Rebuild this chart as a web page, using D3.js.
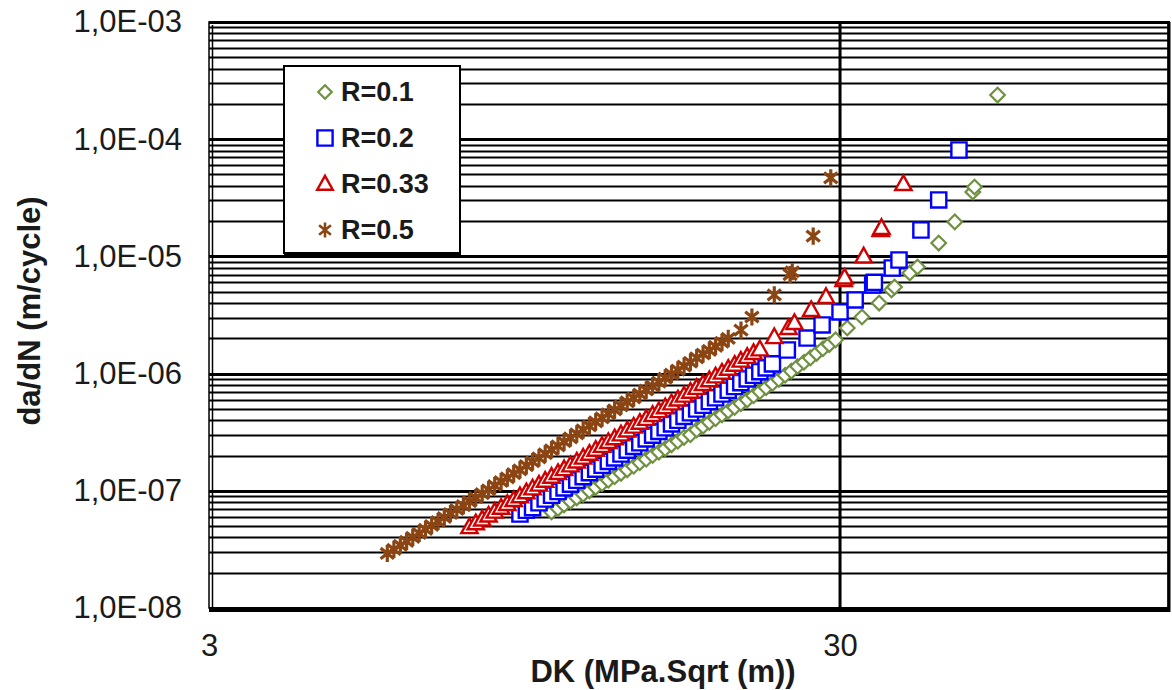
<!DOCTYPE html>
<html>
<head>
<meta charset="utf-8">
<script src="https://cdn.jsdelivr.net/npm/d3@7"></script>
<style>
  body { margin: 0; background: #fff; }
  svg { display: block; font-family: "Liberation Sans", Arial, sans-serif; }
</style>
</head>
<body>
<svg width="1172" height="690"></svg>
<script>
// Series data: DK (MPa.sqrt(m)) and da/dN (m/cycle)
var dkR01 = [10.47, 10.72, 10.96, 11.22, 11.48, 11.75, 12.02, 12.30, 12.59, 12.88, 13.18, 13.49, 13.80, 14.13, 14.45, 14.79, 15.14, 15.49, 15.85,
  16.22, 16.60, 16.98, 17.38, 17.78, 18.20, 18.62, 19.05, 19.50, 19.95, 20.42, 20.89, 21.38, 21.88, 22.39, 22.91, 23.44, 23.99, 24.55, 25.12,
  25.70, 26.30, 26.92, 27.54, 28.18, 28.84, 29.51,
  30.8, 32.5, 34.6, 36.2, 36.6, 38.7, 39.8, 43.0, 45.6, 48.7, 49.0, 53.3];
var dadnR01 = [6.61e-8, 7.08e-8, 7.59e-8, 8.13e-8, 8.71e-8, 9.33e-8, 1.00e-7, 1.07e-7, 1.15e-7, 1.23e-7, 1.32e-7, 1.41e-7, 1.51e-7, 1.62e-7, 1.74e-7, 1.86e-7, 2.00e-7, 2.14e-7, 2.29e-7,
  2.47e-7, 2.65e-7, 2.86e-7, 3.01e-7, 3.31e-7, 3.56e-7, 3.84e-7, 4.13e-7, 4.45e-7, 4.79e-7, 5.15e-7, 5.55e-7, 5.97e-7, 6.47e-7, 7.02e-7, 7.60e-7, 8.24e-7, 8.93e-7, 9.68e-7, 1.05e-6,
  1.15e-6, 1.25e-6, 1.36e-6, 1.49e-6, 1.63e-6, 1.77e-6, 1.94e-6,
  2.45e-6, 3.04e-6, 4.0e-6, 5.17e-6, 5.48e-6, 7.22e-6, 8.12e-6, 1.30e-5, 1.97e-5, 3.55e-5, 3.91e-5, 2.38e-4];

var dkR02 = [9.33, 9.55, 9.77, 10.00, 10.23, 10.47, 10.72, 10.96, 11.22, 11.48, 11.75, 12.02, 12.30, 12.59, 12.88, 13.18, 13.49, 13.80, 14.13, 14.45,
  14.79, 15.14, 15.49, 15.85, 16.22, 16.60, 16.98, 17.38, 17.78, 18.20, 18.62, 19.05, 19.50, 19.95, 20.42, 20.89, 21.38, 21.88, 22.39, 22.91, 23.44,
  24.75, 26.6, 28.1, 30.0, 31.7, 33.8, 34.0, 36.3, 37.2, 40.3, 43.0, 46.3];
var dadnR02 = [6.34e-8, 6.82e-8, 7.18e-8, 7.91e-8, 8.51e-8, 9.16e-8, 9.86e-8, 1.06e-7, 1.14e-7, 1.23e-7, 1.32e-7, 1.43e-7, 1.53e-7, 1.65e-7, 1.78e-7, 1.91e-7, 2.06e-7, 2.22e-7, 2.39e-7, 2.57e-7,
  2.77e-7, 2.98e-7, 3.21e-7, 3.45e-7, 3.72e-7, 4.00e-7, 4.31e-7, 4.63e-7, 4.99e-7, 5.37e-7, 5.78e-7, 6.22e-7, 6.70e-7, 7.21e-7, 7.76e-7, 8.36e-7, 9.00e-7, 9.68e-7, 1.04e-6, 1.12e-6, 1.21e-6,
  1.59e-6, 2.01e-6, 2.60e-6, 3.36e-6, 4.25e-6, 5.70e-6, 6.0e-6, 7.96e-6, 9.32e-6, 1.68e-5, 3.03e-5, 8.09e-5];

var dkR033 = [7.76, 7.94, 8.13, 8.32, 8.51, 8.71, 8.91, 9.12, 9.33, 9.55, 9.77, 10.00, 10.23, 10.47, 10.72, 10.96, 11.22, 11.48, 11.75, 12.02, 12.30, 12.59, 12.88, 13.18,
  13.49, 13.80, 14.13, 14.45, 14.79, 15.14, 15.49, 15.85, 16.22, 16.60, 16.98, 17.38, 17.78, 18.20, 18.62, 19.05, 19.50, 19.95, 20.42, 20.89, 21.38, 21.88, 22.39,
  23.6, 24.86, 25.4, 27.0, 28.5, 30.4, 30.5, 32.7, 34.8, 34.9, 37.8];
var dadnR033 = [4.90e-8, 5.29e-8, 5.70e-8, 6.15e-8, 6.64e-8, 7.16e-8, 7.73e-8, 8.34e-8, 9.00e-8, 9.71e-8, 1.05e-7, 1.13e-7, 1.22e-7, 1.32e-7, 1.42e-7, 1.53e-7, 1.65e-7, 1.78e-7, 1.92e-7, 2.07e-7, 2.24e-7, 2.42e-7, 2.61e-7, 2.81e-7,
  3.03e-7, 3.27e-7, 3.53e-7, 3.81e-7, 4.11e-7, 4.44e-7, 4.79e-7, 5.16e-7, 5.57e-7, 6.01e-7, 6.49e-7, 7.00e-7, 7.55e-7, 8.15e-7, 8.79e-7, 9.48e-7, 1.02e-6, 1.10e-6, 1.19e-6, 1.29e-6, 1.39e-6, 1.50e-6, 1.61e-6,
  2.05e-6, 2.45e-6, 2.70e-6, 3.49e-6, 4.51e-6, 6.29e-6, 6.6e-6, 1.0e-5, 1.68e-5, 1.75e-5, 4.15e-5];

var dkR05 = [5.75, 5.89, 6.03, 6.17, 6.31, 6.46, 6.61, 6.76, 6.92, 7.08, 7.24, 7.41, 7.59, 7.76, 7.94, 8.13, 8.32, 8.51, 8.71, 8.91, 9.12, 9.33, 9.55, 9.77,
  10.00, 10.23, 10.47, 10.72, 10.96, 11.22, 11.48, 11.75, 12.02, 12.30, 12.59, 12.88, 13.18, 13.49, 13.80, 14.13, 14.45, 14.79, 15.14, 15.49, 15.85,
  16.22, 16.60, 16.98, 17.38, 17.78, 18.20, 18.62, 19.05, 19.50, 19.95,
  20.9, 21.75, 23.6, 25.0, 25.2, 27.2, 29.0];
var dadnR05 = [2.92e-8, 3.16e-8, 3.42e-8, 3.70e-8, 4.00e-8, 4.33e-8, 4.68e-8, 5.06e-8, 5.47e-8, 5.92e-8, 6.40e-8, 6.92e-8, 7.48e-8, 8.09e-8, 8.75e-8, 9.46e-8, 1.02e-7, 1.11e-7, 1.20e-7, 1.29e-7, 1.40e-7, 1.51e-7, 1.64e-7, 1.77e-7,
  1.91e-7, 2.07e-7, 2.24e-7, 2.42e-7, 2.62e-7, 2.83e-7, 3.06e-7, 3.31e-7, 3.58e-7, 3.87e-7, 4.19e-7, 4.53e-7, 4.90e-7, 5.30e-7, 5.73e-7, 6.19e-7, 6.70e-7, 7.24e-7, 7.83e-7, 8.47e-7, 9.16e-7,
  9.91e-7, 1.07e-6, 1.16e-6, 1.25e-6, 1.36e-6, 1.47e-6, 1.58e-6, 1.71e-6, 1.85e-6, 2.00e-6,
  2.35e-6, 3.04e-6, 4.69e-6, 7.0e-6, 7.4e-6, 1.49e-5, 4.67e-5];

var seriesNames = ["R=0.1", "R=0.2", "R=0.33", "R=0.5"];
var seriesColors = ["#6f9140", "#0000ff", "#d00000", "#8b4513"];
var yTickValues = [1e-8, 1e-7, 1e-6, 1e-5, 1e-4, 1e-3];
var yTickLabels = ["1,0E-08", "1,0E-07", "1,0E-06", "1,0E-05", "1,0E-04", "1,0E-03"];
var xTickValues = [3, 30];
var xTickLabels = ["3", "30"];

// Layout
var PLOT_LEFT = 209;
var PLOT_TOP = 22;
var PLOT_RIGHT = 1170;
var PLOT_BOTTOM = 608;

var svg = d3.select("svg");

var x = d3.scaleLog().domain([3, 100]).range([PLOT_LEFT, PLOT_RIGHT]);
var y = d3.scaleLog().domain([1e-8, 1e-3]).range([PLOT_BOTTOM, PLOT_TOP]);

// plot background
svg.append("rect")
  .attr("x", PLOT_LEFT).attr("y", PLOT_TOP)
  .attr("width", PLOT_RIGHT - PLOT_LEFT).attr("height", PLOT_BOTTOM - PLOT_TOP)
  .attr("fill", "#fff");

// horizontal grid, minor and major
var grid = svg.append("g").attr("class", "grid");
grid.selectAll("line.h")
  .data(y.ticks())
  .enter().append("line")
  .attr("class", "h")
  .attr("x1", PLOT_LEFT).attr("x2", PLOT_RIGHT)
  .attr("y1", d => Math.round(y(d)) + 0.5)
  .attr("y2", d => Math.round(y(d)) + 0.5)
  .attr("stroke", "#000")
  .attr("stroke-width", d => yTickValues.indexOf(d) >= 0 ? 3 : 2);

// vertical major gridline
grid.selectAll("line.v")
  .data([30])
  .enter().append("line")
  .attr("class", "v")
  .attr("x1", d => x(d)).attr("x2", d => x(d))
  .attr("y1", PLOT_TOP).attr("y2", PLOT_BOTTOM)
  .attr("stroke", "#000")
  .attr("stroke-width", 3);

// plot frame (double line at left/top, heavy shadow at bottom/right)
svg.append("rect")
  .attr("x", PLOT_LEFT).attr("y", PLOT_TOP)
  .attr("width", PLOT_RIGHT - PLOT_LEFT - 2).attr("height", PLOT_BOTTOM - PLOT_TOP)
  .attr("fill", "none")
  .attr("stroke", "#000")
  .attr("stroke-width", 1.5);
svg.append("line")
  .attr("x1", PLOT_LEFT + 3.5).attr("x2", PLOT_LEFT + 3.5)
  .attr("y1", PLOT_TOP + 3).attr("y2", PLOT_BOTTOM)
  .attr("stroke", "#000").attr("stroke-width", 1.5);
svg.append("line")
  .attr("x1", PLOT_LEFT).attr("x2", PLOT_RIGHT)
  .attr("y1", PLOT_BOTTOM + 2).attr("y2", PLOT_BOTTOM + 2)
  .attr("stroke", "#000").attr("stroke-width", 4);
svg.append("line")
  .attr("x1", PLOT_RIGHT - 1).attr("x2", PLOT_RIGHT - 1)
  .attr("y1", PLOT_TOP).attr("y2", PLOT_BOTTOM + 4)
  .attr("stroke", "#000").attr("stroke-width", 3);

// axes (labels only)
var yAxis = d3.axisLeft(y)
  .tickValues(yTickValues)
  .tickFormat((d, i) => yTickLabels[i])
  .tickSize(0)
  .tickPadding(27);
svg.append("g")
  .attr("transform", "translate(" + PLOT_LEFT + ",0)")
  .call(yAxis)
  .call(g => g.select(".domain").remove())
  .selectAll("text")
  .attr("font-size", 31)
  .attr("font-family", "Liberation Sans, Arial, sans-serif")
  .attr("fill", "#1a1a1a");

var xAxis = d3.axisBottom(x)
  .tickValues(xTickValues)
  .tickFormat((d, i) => xTickLabels[i])
  .tickSize(0)
  .tickPadding(26);
svg.append("g")
  .attr("transform", "translate(0," + PLOT_BOTTOM + ")")
  .call(xAxis)
  .call(g => g.select(".domain").remove())
  .selectAll("text")
  .attr("font-size", 31)
  .attr("font-family", "Liberation Sans, Arial, sans-serif")
  .attr("fill", "#1a1a1a");

// axis titles
svg.append("text")
  .attr("x", 663).attr("y", 682)
  .attr("text-anchor", "middle")
  .attr("font-size", 31).attr("font-weight", "bold")
  .attr("fill", "#1a1a1a")
  .text("DK (MPa.Sqrt (m))");

svg.append("text")
  .attr("transform", "translate(40,311) rotate(-90)")
  .attr("text-anchor", "middle")
  .attr("font-size", 31).attr("font-weight", "bold")
  .attr("fill", "#1a1a1a")
  .text("da/dN (m/cycle)");

// marker shapes (size = half-width in px)
var diamond = { draw: function(ctx, r) {
  ctx.moveTo(0, -r); ctx.lineTo(r, 0); ctx.lineTo(0, r); ctx.lineTo(-r, 0); ctx.closePath();
} };
var square = { draw: function(ctx, r) {
  ctx.rect(-r, -r, 2 * r, 2 * r);
} };
var triangle = { draw: function(ctx, r) {
  ctx.moveTo(0, -r); ctx.lineTo(r * 0.95, r * 0.7); ctx.lineTo(-r * 0.95, r * 0.7); ctx.closePath();
} };
var asterisk = { draw: function(ctx, r) {
  var a = r * 0.78, b = r * 0.62;
  ctx.moveTo(0, -r); ctx.lineTo(0, r);
  ctx.moveTo(-a, -b); ctx.lineTo(a, b);
  ctx.moveTo(-a, b); ctx.lineTo(a, -b);
} };
var symbolTypes = [diamond, square, triangle, asterisk];
var symbolSizes = [7.3, 7.6, 8.6, 8.6];
var strokeWidths = [2.2, 2.4, 2.4, 3.2];

function markerPath(i, s) {
  return d3.symbol().type(symbolTypes[i]).size(s || symbolSizes[i])();
}

var series = [
  { dk: dkR01, dadn: dadnR01 },
  { dk: dkR02, dadn: dadnR02 },
  { dk: dkR033, dadn: dadnR033 },
  { dk: dkR05, dadn: dadnR05 }
];

var plot = svg.append("g").attr("class", "points");
series.forEach((s, i) => {
  var pts = s.dk.map((d, j) => ({ dk: d, dadn: s.dadn[j] }));
  plot.append("g")
    .selectAll("path")
    .data(pts)
    .enter().append("path")
    .attr("d", markerPath(i))
    .attr("transform", d => "translate(" + x(d.dk) + "," + y(d.dadn) + ")")
    .attr("fill", i === 3 ? "none" : "#fff")
    .attr("stroke", seriesColors[i])
    .attr("stroke-width", strokeWidths[i]);
});

// legend
var legend = svg.append("g").attr("class", "legend");
legend.append("rect")
  .attr("x", 284).attr("y", 66)
  .attr("width", 176).attr("height", 187)
  .attr("fill", "#fff")
  .attr("stroke", "#000")
  .attr("stroke-width", 2);
legend.append("line")
  .attr("x1", 284).attr("x2", 461)
  .attr("y1", 254).attr("y2", 254)
  .attr("stroke", "#000").attr("stroke-width", 2);

var legendRows = [92, 138, 184, 230];
var legendSizes = [6.8, 7.6, 8.2, 7.6];
seriesNames.forEach((name, i) => {
  legend.append("path")
    .attr("d", markerPath(i, legendSizes[i]))
    .attr("transform", "translate(325," + legendRows[i] + ")")
    .attr("fill", i === 3 ? "none" : "#fff")
    .attr("stroke", seriesColors[i])
    .attr("stroke-width", i === 3 ? 2.6 : strokeWidths[i]);
  legend.append("text")
    .attr("x", 341).attr("y", legendRows[i] + 9)
    .attr("font-size", 27).attr("font-weight", "bold")
    .attr("fill", "#1a1a1a")
    .text(name);
});
</script>
</body>
</html>
